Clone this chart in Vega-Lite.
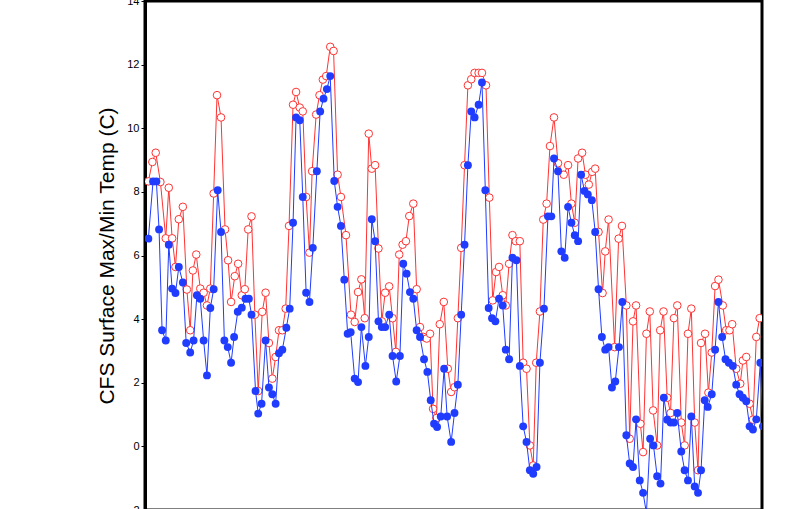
{
  "$schema": "https://vega.github.io/schema/vega-lite/v6.json",
  "width": 617,
  "height": 509,
  "autosize": {"type": "none"},
  "padding": {"left": 145, "top": 1, "right": 38, "bottom": 0},
  "background": "white",
  "config": {
    "view": {"stroke": "black", "strokeWidth": 3},
    "axis": {"grid": false}
  },
  "datasets": {
    "max": [
      {"t":0,"v":8.33},{"t":1.2,"v":8.94},{"t":2.2,"v":9.23},{"t":3.6,"v":8.31},{"t":5.2,"v":6.54},{"t":6.1,"v":8.13},{"t":7.1,"v":6.54},{"t":8.1,"v":5.64},{"t":9.1,"v":7.14},{"t":10.3,"v":7.53},
      {"t":11.5,"v":4.93},{"t":12.5,"v":3.65},{"t":13.3,"v":5.53},{"t":14.3,"v":6.03},{"t":15.5,"v":4.96},{"t":16.5,"v":4.83},{"t":17.5,"v":4.43},{"t":18.5,"v":4.96},{"t":19.5,"v":7.95},{"t":20.5,"v":11.04},
      {"t":21.7,"v":10.34},{"t":22.9,"v":6.82},{"t":23.8,"v":5.85},{"t":24.7,"v":4.54},{"t":25.8,"v":5.35},{"t":26.8,"v":5.74},{"t":27.9,"v":4.75},{"t":28.8,"v":4.94},{"t":29.8,"v":6.82},{"t":30.8,"v":7.23},
      {"t":31.8,"v":4.14},{"t":32.8,"v":1.74},{"t":34.0,"v":4.23},{"t":35.0,"v":4.83},{"t":36.0,"v":3.25},{"t":37.0,"v":2.13},{"t":38.0,"v":2.81},{"t":39.0,"v":3.65},{"t":40.0,"v":3.65},{"t":41.0,"v":4.33},
      {"t":42.0,"v":6.93},{"t":43.2,"v":10.74},{"t":44.1,"v":11.14},{"t":45.2,"v":10.65},{"t":46.1,"v":10.53},{"t":47.1,"v":7.84},{"t":48.1,"v":6.09},{"t":48.9,"v":8.65},{"t":50.1,"v":10.43},{"t":51.1,"v":11.04},
      {"t":52.1,"v":11.53},{"t":53.1,"v":11.64},{"t":54.3,"v":12.56},{"t":55.3,"v":12.43},{"t":56.5,"v":8.54},{"t":57.5,"v":7.84},{"t":59.0,"v":6.64},{"t":60.5,"v":4.14},{"t":61.6,"v":3.91},{"t":62.6,"v":4.85},
      {"t":63.6,"v":5.25},{"t":64.6,"v":4.03},{"t":65.8,"v":9.83},{"t":66.7,"v":8.73},{"t":67.7,"v":8.84},{"t":68.7,"v":6.22},{"t":69.7,"v":3.93},{"t":70.7,"v":4.83},{"t":71.9,"v":5.03},{"t":72.9,"v":4.03},
      {"t":73.9,"v":2.97},{"t":74.9,"v":6.03},{"t":75.9,"v":6.34},{"t":76.9,"v":6.45},{"t":77.9,"v":7.24},{"t":79.1,"v":7.63},{"t":80.1,"v":4.94},{"t":81.1,"v":3.75},{"t":82.1,"v":3.44},{"t":83.1,"v":3.39},
      {"t":84.1,"v":3.54},{"t":85.0,"v":1.18},{"t":86.0,"v":0.89},{"t":87.0,"v":3.84},{"t":88.2,"v":4.54},{"t":89.4,"v":2.44},{"t":90.4,"v":1.71},{"t":91.4,"v":1.86},{"t":92.4,"v":4.03},{"t":93.4,"v":6.24},
      {"t":94.4,"v":8.84},{"t":95.4,"v":11.35},{"t":96.4,"v":11.54},{"t":97.4,"v":11.74},{"t":98.6,"v":11.74},{"t":99.6,"v":11.74},{"t":100.8,"v":11.35},{"t":101.8,"v":7.82},{"t":102.8,"v":4.59},{"t":103.8,"v":5.48},
      {"t":104.7,"v":5.64},{"t":105.8,"v":4.75},{"t":106.7,"v":4.43},{"t":107.7,"v":5.74},{"t":108.7,"v":6.64},{"t":109.7,"v":6.45},{"t":110.9,"v":6.45},{"t":111.9,"v":2.63},{"t":112.9,"v":2.44},{"t":113.9,"v":0.03},
      {"t":114.9,"v":-0.6},{"t":115.8,"v":2.63},{"t":116.9,"v":4.24},{"t":117.9,"v":7.13},{"t":118.9,"v":7.63},{"t":119.9,"v":9.44},{"t":121.1,"v":10.34},{"t":122.3,"v":8.9},{"t":124.0,"v":8.54},{"t":125.3,"v":8.84},
      {"t":126.3,"v":7.63},{"t":127.3,"v":7.03},{"t":128.3,"v":9.05},{"t":129.5,"v":9.23},{"t":130.5,"v":8.54},{"t":131.5,"v":8.23},{"t":132.5,"v":8.63},{"t":133.4,"v":8.73},{"t":134.4,"v":6.74},{"t":135.6,"v":4.82},
      {"t":136.4,"v":6.13},{"t":137.4,"v":7.13},{"t":139.2,"v":3.12},{"t":140.4,"v":6.53},{"t":141.4,"v":6.93},{"t":142.7,"v":4.43},{"t":143.7,"v":0.24},{"t":144.7,"v":3.93},{"t":145.6,"v":4.43},{"t":146.9,"v":0.71},
      {"t":147.7,"v":-0.18},{"t":148.7,"v":3.54},{"t":149.7,"v":4.24},{"t":150.7,"v":1.13},{"t":151.9,"v":0.03},{"t":152.8,"v":3.65},{"t":153.8,"v":4.24},{"t":154.9,"v":1.53},{"t":155.9,"v":1.05},{"t":156.9,"v":4.03},
      {"t":157.9,"v":4.43},{"t":159.1,"v":0.75},{"t":160.1,"v":0.03},{"t":161.1,"v":3.54},{"t":162.1,"v":4.33},{"t":163.1,"v":0.75},{"t":164.1,"v":-0.75},{"t":165.0,"v":3.25},{"t":166.2,"v":3.54},{"t":167.2,"v":1.69},
      {"t":168.2,"v":2.95},{"t":169.2,"v":5.04},{"t":170.2,"v":5.24},{"t":171.5,"v":4.43},{"t":172.5,"v":3.65},{"t":173.5,"v":3.65},{"t":174.3,"v":3.84},{"t":175.5,"v":2.44},{"t":176.7,"v":1.97},{"t":177.5,"v":2.7},
      {"t":178.5,"v":2.81},{"t":179.5,"v":1.34},{"t":180.5,"v":0.84},{"t":181.5,"v":3.44},{"t":182.5,"v":4.03}
    ],
    "min": [
      {"t":0,"v":6.53},{"t":1.4,"v":8.33},{"t":2.4,"v":8.33},{"t":3.2,"v":6.82},{"t":4.1,"v":3.65},{"t":5.2,"v":3.33},{"t":6.1,"v":6.34},{"t":7.1,"v":4.96},{"t":8.1,"v":4.82},{"t":9.1,"v":5.64},
      {"t":10.3,"v":5.15},{"t":11.3,"v":3.25},{"t":12.5,"v":2.95},{"t":13.5,"v":3.33},{"t":14.5,"v":4.75},{"t":15.5,"v":4.64},{"t":16.5,"v":3.33},{"t":17.5,"v":2.23},{"t":18.5,"v":4.35},{"t":19.5,"v":4.94},
      {"t":20.7,"v":8.05},{"t":21.7,"v":6.74},{"t":22.7,"v":3.33},{"t":23.7,"v":3.12},{"t":24.7,"v":2.63},{"t":25.6,"v":3.44},{"t":26.7,"v":4.23},{"t":27.9,"v":4.36},{"t":29.0,"v":4.64},{"t":30.0,"v":4.64},
      {"t":30.8,"v":4.14},{"t":32.0,"v":1.74},{"t":32.8,"v":1.03},{"t":33.8,"v":1.34},{"t":35.0,"v":3.33},{"t":36.0,"v":1.85},{"t":37.0,"v":1.64},{"t":38.0,"v":1.34},{"t":39.0,"v":2.93},{"t":40.0,"v":3.04},
      {"t":41.2,"v":3.73},{"t":42.2,"v":4.33},{"t":43.2,"v":7.03},{"t":44.1,"v":10.34},{"t":45.2,"v":10.25},{"t":46.1,"v":7.84},{"t":47.1,"v":4.83},{"t":48.1,"v":4.54},{"t":49.1,"v":6.24},{"t":50.3,"v":8.65},
      {"t":51.3,"v":10.53},{"t":52.3,"v":10.93},{"t":53.3,"v":11.23},{"t":54.3,"v":11.64},{"t":55.5,"v":8.34},{"t":56.5,"v":7.53},{"t":57.5,"v":6.93},{"t":58.5,"v":5.24},{"t":59.5,"v":3.54},{"t":60.4,"v":3.59},
      {"t":61.6,"v":2.13},{"t":62.6,"v":2.02},{"t":63.6,"v":3.75},{"t":64.8,"v":2.53},{"t":65.8,"v":3.44},{"t":66.7,"v":7.14},{"t":67.7,"v":6.45},{"t":68.7,"v":3.93},{"t":69.7,"v":3.75},{"t":70.7,"v":3.75},
      {"t":71.9,"v":4.14},{"t":72.9,"v":2.84},{"t":74.0,"v":2.04},{"t":75.1,"v":2.84},{"t":76.1,"v":5.74},{"t":77.1,"v":5.43},{"t":78.1,"v":4.85},{"t":79.1,"v":4.64},{"t":80.1,"v":3.65},{"t":81.1,"v":3.44},
      {"t":82.3,"v":2.74},{"t":83.3,"v":2.34},{"t":84.3,"v":1.45},{"t":85.3,"v":0.71},{"t":86.2,"v":0.61},{"t":87.3,"v":0.94},{"t":88.3,"v":2.44},{"t":89.2,"v":0.94},{"t":90.4,"v":0.14},{"t":91.4,"v":1.05},
      {"t":92.4,"v":1.94},{"t":93.4,"v":4.14},{"t":94.4,"v":6.34},{"t":95.4,"v":8.84},{"t":96.4,"v":10.53},{"t":97.4,"v":10.34},{"t":98.6,"v":10.74},{"t":99.6,"v":11.44},{"t":100.6,"v":8.05},{"t":101.6,"v":4.35},
      {"t":102.6,"v":4.03},{"t":103.6,"v":3.93},{"t":104.7,"v":4.64},{"t":105.8,"v":4.43},{"t":106.7,"v":3.04},{"t":107.7,"v":2.74},{"t":108.7,"v":5.93},{"t":109.9,"v":5.85},{"t":110.9,"v":2.53},{"t":111.9,"v":0.63},
      {"t":112.9,"v":0.14},{"t":113.9,"v":-0.75},{"t":114.9,"v":-0.86},{"t":115.9,"v":-0.65},{"t":116.9,"v":2.63},{"t":118.1,"v":4.33},{"t":119.3,"v":7.23},{"t":120.3,"v":7.23},{"t":121.1,"v":9.05},{"t":122.3,"v":8.65},
      {"t":123.3,"v":6.13},{"t":124.3,"v":5.93},{"t":125.3,"v":7.53},{"t":126.3,"v":7.03},{"t":127.3,"v":6.64},{"t":128.3,"v":6.45},{"t":129.2,"v":8.54},{"t":130.2,"v":8.03},{"t":131.2,"v":7.92},{"t":132.4,"v":7.74},
      {"t":133.4,"v":6.74},{"t":134.4,"v":4.94},{"t":135.4,"v":3.44},{"t":136.4,"v":3.04},{"t":137.4,"v":3.12},{"t":138.4,"v":1.85},{"t":139.4,"v":2.04},{"t":140.5,"v":3.12},{"t":141.5,"v":4.54},{"t":142.7,"v":0.35},
      {"t":143.7,"v":-0.54},{"t":144.7,"v":-0.65},{"t":145.6,"v":0.85},{"t":146.7,"v":-1.07},{"t":147.7,"v":-1.46},{"t":148.7,"v":-2.1},{"t":149.8,"v":0.24},{"t":150.8,"v":0.03},{"t":151.9,"v":-0.94},{"t":152.9,"v":-1.17},
      {"t":153.9,"v":1.53},{"t":154.9,"v":0.84},{"t":155.9,"v":0.75},{"t":156.9,"v":0.75},{"t":157.9,"v":1.05},{"t":159.1,"v":-0.16},{"t":160.1,"v":-0.75},{"t":161.1,"v":-1.07},{"t":162.1,"v":0.94},{"t":163.1,"v":-1.26},
      {"t":164.1,"v":-1.46},{"t":165.0,"v":-0.75},{"t":166.1,"v":1.45},{"t":167.0,"v":1.24},{"t":168.2,"v":1.64},{"t":169.2,"v":3.04},{"t":170.2,"v":4.54},{"t":171.3,"v":3.44},{"t":172.3,"v":2.74},{"t":173.3,"v":2.63},
      {"t":174.5,"v":2.53},{"t":175.5,"v":1.94},{"t":176.5,"v":1.64},{"t":177.5,"v":1.53},{"t":178.5,"v":1.42},{"t":179.5,"v":0.63},{"t":180.5,"v":0.53},{"t":181.5,"v":0.85},{"t":182.7,"v":2.63},{"t":183.5,"v":0.63}
    ]
  },
  "encoding": {
    "x": {"field": "t", "type": "quantitative", "scale": {"domain": [-1, 183.2], "nice": false, "zero": false}, "axis": null},
    "y": {
      "field": "v", "type": "quantitative",
      "scale": {"domain": [-2, 14], "nice": false, "zero": false},
      "axis": {
        "values": [-2, 0, 2, 4, 6, 8, 10, 12, 14],
        "title": "CFS Surface Max/Min Temp (C)",
        "titleFont": "Liberation Sans", "titleFontSize": 21, "titleFontWeight": "normal", "titleColor": "black", "titlePadding": 9,
        "labelFont": "Liberation Sans", "labelFontSize": 11, "labelColor": "black", "labelPadding": 2,
        "domainColor": "black", "domainWidth": 3, "tickColor": "black", "tickSize": 4, "tickWidth": 1
      }
    }
  },
  "layer": [
    {"data": {"name": "max"}, "mark": {"type": "line", "color": "#ff3333", "strokeWidth": 1, "clip": true}},
    {"data": {"name": "max"}, "mark": {"type": "point", "shape": "circle", "size": 58, "fill": "white", "stroke": "#ff3333", "strokeWidth": 1, "opacity": 1, "clip": true}},
    {"data": {"name": "min"}, "mark": {"type": "line", "color": "#1f3cff", "strokeWidth": 1, "clip": true}},
    {"data": {"name": "min"}, "mark": {"type": "point", "shape": "circle", "size": 62, "filled": true, "color": "#1f3cff", "opacity": 1, "clip": true}}
  ]
}
